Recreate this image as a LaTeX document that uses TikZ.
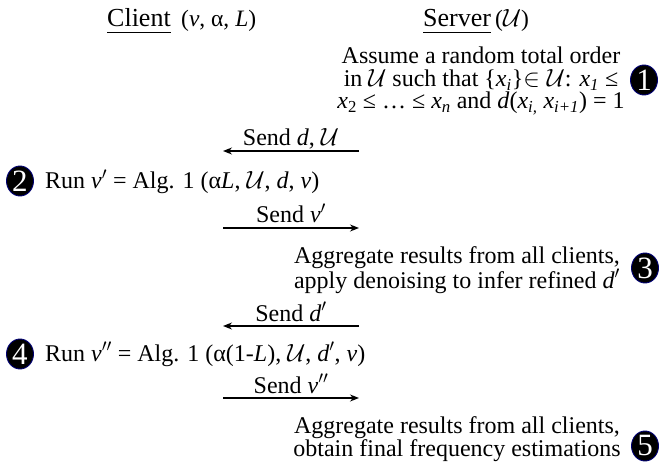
\documentclass[tikz,border=0pt]{standalone}
\usepackage{fontspec}
\setmainfont{Liberation Serif}
\usetikzlibrary{arrows.meta,shapes.geometric}

\def\badges{{(20,181)/2}, {(20,354)/4}, {(644,80)/1}, {(645,268)/3}, {(645,446)/5}}
\def\messages{{359/223/151/146/senddu/{Send \textit{d}, $\mathcal{U}$}}, {223/359/228/223/sendv/{Send \textit{v}$'$}}, {359/223/326/321/sendd/{Send \textit{d}$'$}}, {223/359/398/393/sendvv/{Send \textit{v}$''$}}}
\newcommand\ix[1]{\textit{x}\textsubscript{\textit{#1}}}
\colorlet{badge edge}{blue!45!black}
\tikzstyle{txt}=[inner sep=0pt, font=\fontsize{24}{22.5}\selectfont]
\tikzstyle{head}=[inner sep=0pt, font=\fontsize{26}{26}\selectfont]
\tikzstyle{vars}=[inner sep=0pt, font=\fontsize{23.5}{23.5}\selectfont]
\tikzstyle{underline}=[draw, line width=1pt]
\tikzstyle{badge}=[ellipse, fill=black, draw=badge edge, line width=0.9pt, text=white, minimum width=27pt, minimum height=30pt, inner sep=0pt, font=\fontsize{31}{31}\selectfont]
\tikzstyle{msg}=[draw, line width=1.3pt, -{Stealth[length=9pt,width=7pt]}]

\begin{document}
\begin{tikzpicture}[x=1pt,y=-1pt]
  \useasboundingbox (0,0) rectangle (659,473);

  % The two parties
  \node[head, anchor=base west] (client) at (107,27) {Client};
  \node[vars, anchor=base west] (clientvars) at (181,27) {(\textit{v}, α, \textit{L})};
  \node[head, anchor=base west] (server) at (423,27) {Server};
  \node[vars, anchor=base west] (servervars) at (495,27) {($\mathcal{U}$)};
  \foreach \name in {client, server}
    \path[underline] ([yshift=-6pt]\name.base west) -- ([yshift=-6pt]\name.base east);

  % What the server does
  \node[txt, align=center, anchor=base] (order) at (481,109)
    {Assume a random total order\\
     in $\mathcal{U}$ such that \{\ix{i}\}$\in\mathcal{U}$: \ix{1} ≤\\
     \textit{x}\textsubscript{2} ≤ \ldots{} ≤ \ix{n} and \textit{d}(\ix{i,} \ix{i+1}) = 1};
  \node[txt, align=center, anchor=base] (aggregate) at (457,288)
    {Aggregate results from all clients,\\ apply denoising to infer refined \textit{d}$'$};
  \node[txt, align=center, anchor=base] (estimate) at (457,456)
    {Aggregate results from all clients,\\ obtain final frequency estimations};

  % What each client runs
  \node[txt, anchor=base west] (run) at (45,189)
    {Run \textit{v}$'$ = Alg. 1 (α\textit{L}, $\mathcal{U}$, \textit{d}, \textit{v})};
  \node[txt, anchor=base west] (rerun) at (45,361)
    {Run \textit{v}$''$ = Alg. 1 (α(1-\textit{L}), $\mathcal{U}$, \textit{d}$'$, \textit{v})};

  % The numbered steps
  \foreach \pos/\num in \badges
    \node[badge] (step\num) at \pos {\num};

  % The messages between them
  \foreach \from/\to/\y/\ly/\name/\label in \messages {
    \coordinate (\name-start) at (\from,\y);
    \coordinate (\name-end) at (\to,\y);
    \path[msg] (\name-start) -- (\name-end);
    \node[txt, anchor=base] (\name) at ({(\from+\to)/2},\ly) {\label};
  }
\end{tikzpicture}
\end{document}
